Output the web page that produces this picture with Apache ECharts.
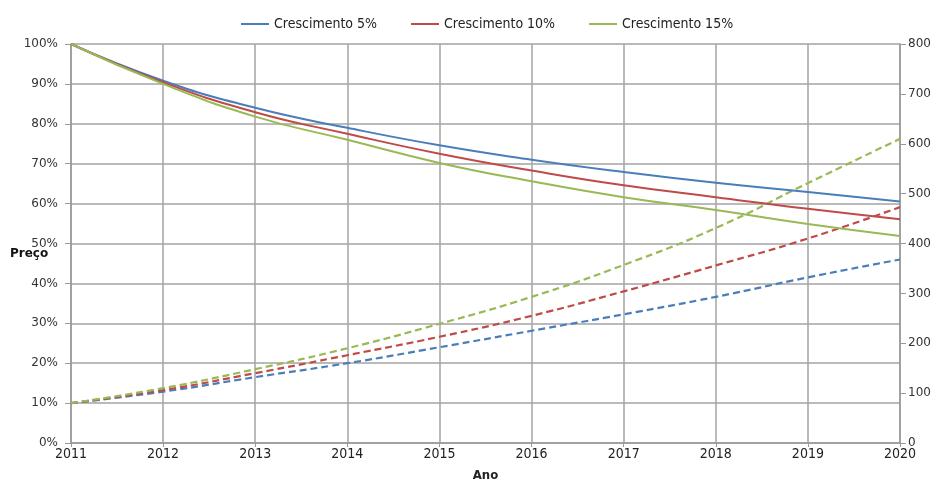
<!DOCTYPE html>
<html>
<head>
<meta charset="utf-8">
<script src="https://cdn.jsdelivr.net/npm/echarts@6/dist/echarts.min.js"></script>
<style>
html, body { margin: 0; padding: 0; background: #fff; }
#main { width: 941px; height: 479px; }
</style>
</head>
<body>
<div id="main"></div>
<script>
// anos
const years = ['2011', '2012', '2013', '2014', '2015', '2016', '2017', '2018', '2019', '2020'];
const names = ['Crescimento 5%', 'Crescimento 10%', 'Crescimento 15%'];
const colors = ['#4a7ebb', '#be4b48', '#98b954'];
// preço (%) - eixo esquerdo
const preco5 = [100, 90.8, 84.0, 79.0, 74.6, 71.0, 67.9, 65.2, 62.9, 60.5];
const preco10 = [100, 90.4, 82.9, 77.5, 72.5, 68.3, 64.6, 61.6, 58.7, 56.1];
const preco15 = [100, 90.0, 81.8, 76.0, 70.2, 65.6, 61.6, 58.4, 54.9, 51.9];
// tracejado - eixo direito
const acum5 = [80, 103, 132, 160, 192, 225, 258, 293, 332, 368];
const acum10 = [80, 106, 140, 176, 213, 255, 304, 356, 410, 473];
const acum15 = [80, 110, 148, 190, 239, 293, 357, 431, 521, 610];

const precos = [preco5, preco10, preco15];
const acums = [acum5, acum10, acum15];
const narrow = '"DejaVu Sans Condensed", "Liberation Sans", sans-serif';

let series = [];
for (let i = 0; i < 3; i++) {
	series.push({
		name: names[i],
		type: 'line',
		yAxisIndex: 0,
		data: precos[i],
		smooth: true,
		symbol: 'none',
		lineStyle: { color: colors[i], width: 2 },
		itemStyle: { color: colors[i] },
		z: 3
	});
}
for (let i = 0; i < 3; i++) {
	series.push({
		name: names[i] + ' ',
		type: 'line',
		yAxisIndex: 1,
		data: acums[i],
		smooth: true,
		symbol: 'none',
		lineStyle: { color: colors[i], width: 2.2, type: [7, 4] },
		itemStyle: { color: colors[i] },
		z: 2
	});
}

const chart = echarts.init(document.getElementById('main'));
const option = {
	animation: false,
	backgroundColor: '#fff',
	textStyle: { fontFamily: 'DejaVu Sans' },
	legend: {
		data: names,
		top: 12,
		left: 236,
		icon: 'rect',
		itemWidth: 28,
		itemHeight: 2,
		itemGap: 34,
		itemTextGap: 2,
		textStyle: { fontFamily: narrow, fontSize: 14, color: '#222' }
	},
	grid: { left: 71, right: 41, top: 44, bottom: 36, outerBoundsMode: 'none' },
	xAxis: {
		type: 'category',
		data: years,
		boundaryGap: false,
		name: 'Ano',
		nameLocation: 'middle',
		nameGap: 26,
		nameTextStyle: { fontFamily: narrow, fontWeight: 'bold', fontSize: 13, color: '#222' },
		axisLine: { lineStyle: { color: '#999', width: 1.5 } },
		axisTick: { show: true, length: 4, lineStyle: { color: '#999' } },
		axisLabel: { fontFamily: narrow, fontSize: 14, color: '#222', margin: 4 },
		splitLine: { show: true, lineStyle: { color: '#a3a3a3', width: 1.5 } }
	},
	yAxis: [{
		type: 'value',
		min: 0,
		max: 100,
		interval: 10,
		axisLine: { show: true, lineStyle: { color: '#999', width: 1.5 } },
		axisTick: { show: true, length: 6, lineStyle: { color: '#999' } },
		axisLabel: { formatter: '{value}%', fontSize: 12, color: '#333', margin: 13 },
		splitLine: { show: true, lineStyle: { color: '#a3a3a3', width: 1.5 } }
	}, {
		type: 'value',
		min: 0,
		max: 800,
		interval: 100,
		position: 'right',
		axisLine: { show: true, lineStyle: { color: '#999', width: 1.5 } },
		axisTick: { show: true, length: 6, lineStyle: { color: '#999' } },
		axisLabel: { fontSize: 12, color: '#333', margin: 8 },
		splitLine: { show: false }
	}],
	graphic: [{
		type: 'text',
		left: 10,
		top: 248,
		style: { text: 'Preço', font: 'bold 12px "DejaVu Sans"', fill: '#111' }
	}],
	series: series
};
chart.setOption(option);
</script>
</body>
</html>
